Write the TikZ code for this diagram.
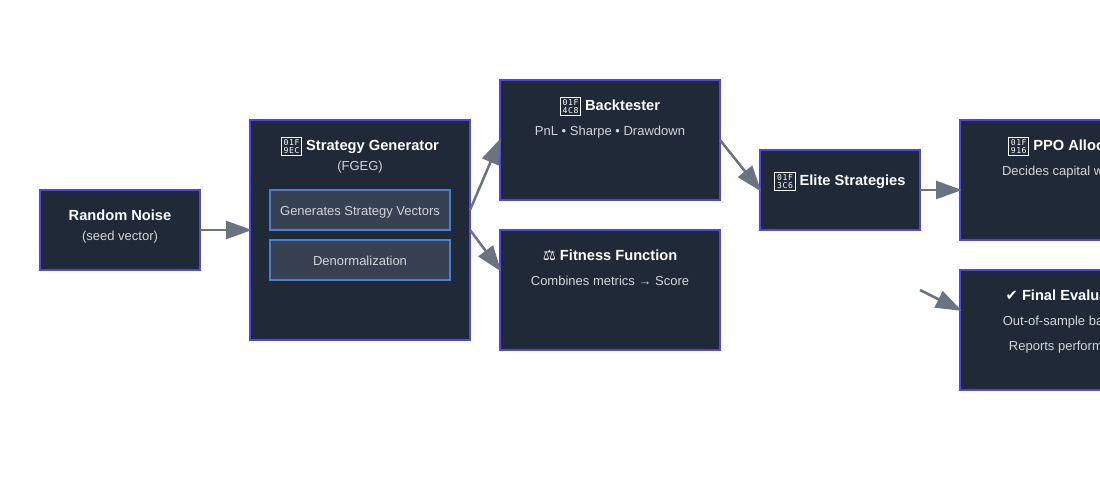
\documentclass[tikz,border=0pt]{standalone}
\usepackage{fontspec}
\setmainfont{Liberation Sans}
\newfontfamily\hexfont{DejaVu Sans Mono}
\newfontfamily\glyphfont{DejaVu Sans}
\usepackage{xcolor}
\usetikzlibrary{arrows.meta,positioning,calc}
\definecolor{PipeInk}{HTML}{1F2937}
\definecolor{PipeEdge}{HTML}{4F46E5}
\definecolor{PipeSub}{HTML}{374151}
\definecolor{PipeBlue}{HTML}{4A80D0}
\definecolor{PipeText}{HTML}{D1D5DB}
\definecolor{PipeArrow}{HTML}{6B7280}
\newcommand{\hexcell}[1]{\hbox to 3.1pt{\hss#1\hss}}
\newcommand{\hexline}[3]{\hbox{\hexcell{#1}\hexcell{#2}\hexcell{#3}}}
\newcommand{\hexglyph}[6]{\raisebox{-1.5pt}{\fboxsep=0.9pt\fboxrule=0.45pt\fbox{\vbox{\hexfont\mdseries\fontsize{4.6}{4.7}\selectfont\baselineskip=4.7pt\hexline{#1}{#2}{#3}\hexline{#4}{#5}{#6}}}}}

\begin{document}
\begin{tikzpicture}[
  stage/.style={draw=PipeEdge, line width=0.055cm, fill=PipeInk, outer sep=0pt, minimum width=#1, minimum height=2.4cm},
  substage/.style={draw=PipeBlue, line width=0.04cm, fill=PipeSub, outer sep=0pt, minimum width=3.6cm, minimum height=0.8cm, text depth=0pt, text height=6.4pt, text=PipeText, font=\fontsize{7.4}{9}\selectfont},
  title/.style={anchor=base, inner sep=0pt, text=white, font=\fontsize{8.34}{10}\selectfont\bfseries},
  detail/.style={anchor=base, inner sep=0pt, text=PipeText, font=\fontsize{7.4}{9}\selectfont},
  arrow/.style={-{Triangle[length=0.52cm,width=0.36cm]}, line width=0.05cm, color=PipeArrow, shorten >=-0.04cm}
]
\clip (0,0) rectangle (22,-10);
\fill[white] (0,0) rectangle (22,-10);

\node[stage=3.2cm, minimum height=1.6cm] (noise) at (2.4,-4.6) {};
\node[stage=4.4cm, minimum height=4.4cm, right=1cm of noise] (generator) {};
\node[stage=4.4cm, right=0.6cm of generator, yshift=1.8cm] (backtester) {};
\node[stage=4.4cm, right=0.6cm of generator, yshift=-1.2cm] (fitness) {};
\node[stage=3.2cm, minimum height=1.6cm, right=0.8cm of backtester, yshift=-1cm] (elite) {};
\node[stage=4.4cm, right=0.8cm of elite, yshift=0.2cm] (allocator) {};
\node[stage=4.4cm, right=0.8cm of elite, yshift=-2.8cm] (evaluation) {};

\node[title] (noisetitle) at ($(noise.north)+(0,-0.62)$) {Random Noise};
\node[detail] (noisedetail) at ($(noise.north)+(0,-1.02)$) {(seed vector)};

\node[title] (generatortitle) at ($(generator.north)+(0,-0.62)$) {\hexglyph{0}{1}{F}{9}{E}{C} Strategy Generator};
\node[detail] (generatordetail) at ($(generator.north)+(0,-1.02)$) {(FGEG)};
\node[substage] (vectors) at ($(generator.north)+(0,-1.8)$) {Generates Strategy Vectors};
\node[substage, below=0.2cm of vectors] (denorm) {Denormalization};

\node[title] (backtestertitle) at ($(backtester.north)+(0,-0.62)$) {\hexglyph{0}{1}{F}{4}{C}{8} Backtester};
\node[detail] (backtesterdetail) at ($(backtester.north)+(0,-1.12)$) {PnL • Sharpe • Drawdown};

\node[title] (fitnesstitle) at ($(fitness.north)+(0,-0.62)$) {{\glyphfont\mdseries ⚖} Fitness Function};
\node[detail] (fitnessdetail) at ($(fitness.north)+(0,-1.12)$) {Combines metrics → Score};

\node[title] (elitetitle) at ($(elite.north)+(0,-0.72)$) {\hexglyph{0}{1}{F}{3}{C}{6} Elite Strategies};

\node[title] (allocatortitle) at ($(allocator.north)+(0,-0.62)$) {\hexglyph{0}{1}{F}{9}{1}{6} PPO Allocator};
\node[detail] (allocatordetail) at ($(allocator.north)+(0,-1.12)$) {Decides capital weights};

\node[title] (evaluationtitle) at ($(evaluation.north)+(0,-0.62)$) {{\glyphfont\mdseries ✔} Final Evaluation};
\node[detail] (evaluationdetail) at ($(evaluation.north)+(0,-1.12)$) {Out-of-sample backtest};
\node[detail] (evaluationreport) at ($(evaluation.north)+(0,-1.62)$) {Reports performance};

\coordinate (generatorout) at ($(generator.east)+(0,0.4)$);
\coordinate (fitnessin) at ($(fitness.west)+(0,0.4)$);
\coordinate (allocatorin) at ($(allocator.west)+(0,-0.2)$);
\coordinate (evaluationout) at ($(elite.south east)+(0,-1.2)$);
\coordinate (evaluationin) at ($(evaluation.west)+(0,0.4)$);

\draw[arrow] (noise.east) -- (generator.west);
\draw[arrow] (generatorout) -- (backtester.west);
\draw[arrow] (generator.east) -- (fitnessin);
\draw[arrow] (backtester.east) -- (elite.west);
\draw[arrow] (elite.east) -- (allocatorin);
\draw[arrow] (evaluationout) -- (evaluationin);
\end{tikzpicture}
\end{document}
